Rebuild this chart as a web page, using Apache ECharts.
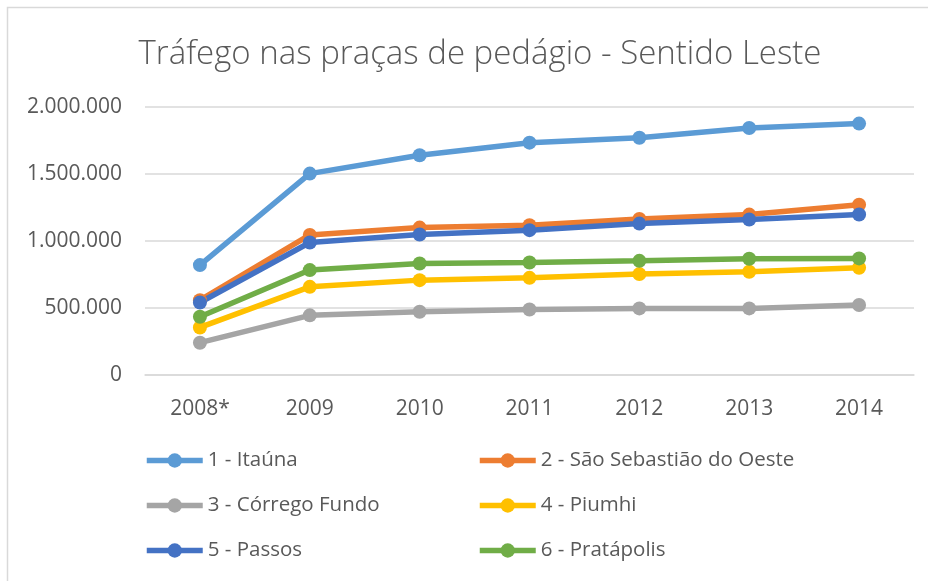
<!DOCTYPE html>
<html>
<head>
<meta charset="utf-8">
<script src="https://cdn.jsdelivr.net/npm/echarts@6/dist/echarts.min.js"></script>
<style>
  html, body { margin: 0; padding: 0; background: #ffffff; }
  #chart { width: 928px; height: 581px; }
</style>
</head>
<body>
<div id="chart"></div>
<script>
// Anos e tráfego anual por praça (veículos, sentido leste)
const years = ['2008*', '2009', '2010', '2011', '2012', '2013', '2014'];
const itauna        = [820000, 1503000, 1640000, 1734000, 1771000, 1843000, 1876000];
const saoSebastiao  = [558000, 1045000, 1100000, 1118000, 1165000, 1197000, 1270000];
const corregoFundo  = [241000,  445000,  472000,  489000,  497000,  497000,  522000];
const piumhi        = [355000,  658000,  708000,  725000,  753000,  770000,  800000];
const passos        = [541000,  989000, 1048000, 1081000, 1130000, 1160000, 1198000];
const pratapolis    = [435000,  783000,  832000,  840000,  852000,  867000,  870000];
const yTicks = [0, 500000, 1000000, 1500000, 2000000];

const FONT = '"Open Sans", "Noto Sans", sans-serif';
const TEXT = '#595959';

function fmt(v) {
  return String(v).replace(/\B(?=(\d{3})+(?!\d))/g, '.');
}

function line(name, data, color) {
  return {
    name: name,
    type: 'line',
    data: data,
    symbol: 'circle',
    symbolSize: 14,
    lineStyle: { width: 5.5, color: color },
    itemStyle: { color: color },
    emphasis: { disabled: true },
    animation: false
  };
}

function legendColumn(left, names) {
  return {
    orient: 'vertical', left: left, top: 450, itemGap: 24, padding: 0,
    itemWidth: 56, itemHeight: 18,
    lineStyle: { width: 5.5 },
    data: names,
    textStyle: { fontFamily: FONT, fontSize: 20.5, lineHeight: 21, color: TEXT },
    selectedMode: false
  };
}

const chart = echarts.init(document.getElementById('chart'), null, { renderer: 'canvas' });
chart.setOption({
  backgroundColor: '#ffffff',
  title: {
    text: 'Tráfego nas praças de pedágio - Sentido Leste',
    left: 475,
    textAlign: 'center',
    top: 33,
    textStyle: { fontFamily: FONT, fontWeight: 300, fontSize: 33, color: TEXT }
  },
  graphic: [{
    type: 'rect',
    shape: { x: 7.5, y: 7.5, width: 940, height: 600 },
    style: { fill: 'none', stroke: '#d9d9d9', lineWidth: 1.5 },
    silent: true
  }],
  legend: [
    legendColumn(144, ['1 - Itaúna', '3 - Córrego Fundo', '5 - Passos']),
    legendColumn(477, ['2 - São Sebastião do Oeste', '4 - Piumhi', '6 - Pratápolis'])
  ],
  grid: { left: 145, right: 14, top: 107, bottom: 206 },
  xAxis: {
    type: 'category',
    data: years,
    boundaryGap: true,
    axisLine: { show: true, lineStyle: { color: '#d9d9d9', width: 1.5 } },
    axisTick: { show: false },
    axisLabel: { fontFamily: FONT, fontSize: 21, color: TEXT, margin: 24 }
  },
  yAxis: {
    type: 'value',
    min: yTicks[0],
    max: yTicks[yTicks.length - 1],
    interval: yTicks[1] - yTicks[0],
    axisLine: { show: false },
    axisTick: { show: false },
    splitLine: { lineStyle: { color: '#d9d9d9', width: 1.5 } },
    axisLabel: { fontFamily: FONT, fontSize: 21, color: TEXT, margin: 23, formatter: fmt }
  },
  series: [
    line('1 - Itaúna', itauna, '#5B9BD5'),
    line('2 - São Sebastião do Oeste', saoSebastiao, '#ED7D31'),
    line('3 - Córrego Fundo', corregoFundo, '#A5A5A5'),
    line('4 - Piumhi', piumhi, '#FFC000'),
    line('5 - Passos', passos, '#4472C4'),
    line('6 - Pratápolis', pratapolis, '#70AD47')
  ]
});
</script>
</body>
</html>
